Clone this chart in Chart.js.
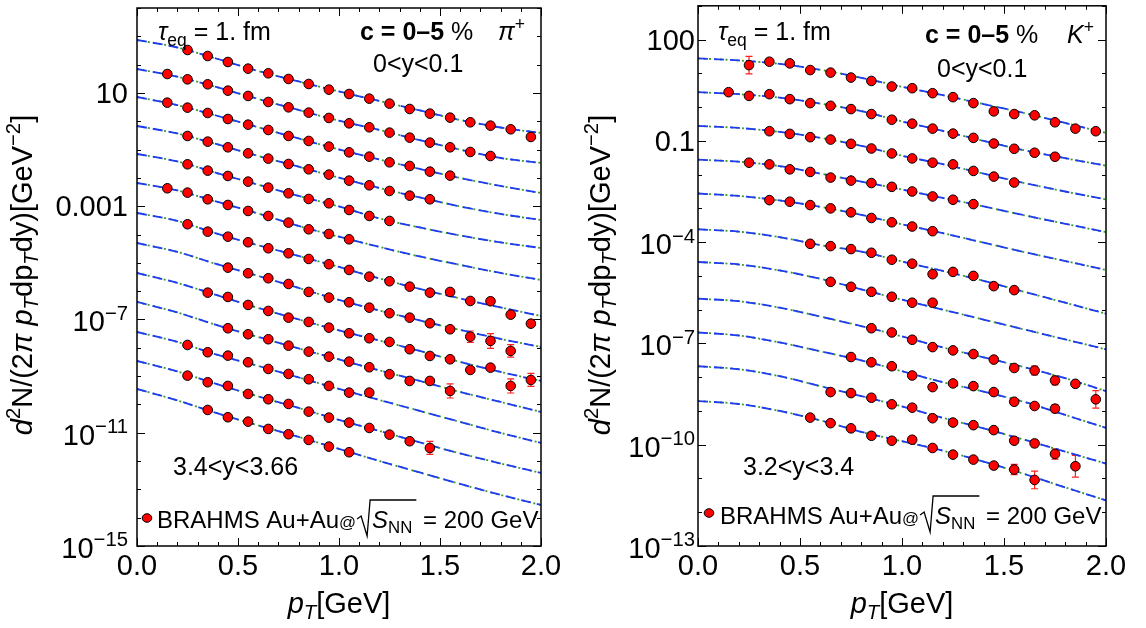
<!DOCTYPE html>
<html>
<head>
<meta charset="utf-8">
<script src="https://cdn.jsdelivr.net/npm/chart.js@4.4.1/dist/chart.umd.min.js"></script>
<style>
  html, body { margin: 0; padding: 0; background: #fff; }
  #wrap { position: relative; width: 1146px; height: 628px; overflow: hidden; }
  .panel { position: absolute; top: 0; width: 573px; height: 628px; }
</style>
</head>
<body>
<div id="wrap">
  <div class="panel" style="left:0"><canvas id="pi-chart" width="573" height="628"></canvas></div>
  <div class="panel" style="left:573px"><canvas id="k-chart" width="573" height="628"></canvas></div>
</div>
<script>
// pT bin centres of the BRAHMS points and the pT grid of the model curves
const PT_BINS = [0.15, 0.25, 0.35, 0.45, 0.55, 0.65, 0.75, 0.85, 0.95, 1.05, 1.15, 1.25, 1.35, 1.45, 1.55, 1.65, 1.75, 1.85, 1.95];
const CURVE_PT = [0, 0.2, 0.4, 0.6, 0.8, 1.0, 1.2, 1.4, 1.6, 1.8, 2.0];

// values are log10 of the (scaled) yield, one row per rapidity bin
const _ = null;
const piData = [
  [_, 2.517, 2.305, 2.093, 1.858, 1.693, 1.493, 1.316, 1.116, 0.963, 0.798, 0.622, 0.434, 0.269, 0.128, -0.037, -0.155, -0.284, -0.555],
  [1.669, 1.481, 1.305, 1.081, 0.893, 0.681, 0.492, 0.304, 0.116, -0.073, -0.214, -0.402, -0.579, -0.755, -0.920, -1.085, -1.226, _, _],
  [0.657, 0.481, 0.292, 0.080, -0.120, -0.308, -0.520, -0.696, -0.896, -1.097, -1.250, -1.450, -1.579, -1.779, -1.920, _, _, _, _],
  [_, -0.520, -0.720, -0.920, -1.132, -1.320, -1.509, -1.697, -1.885, -2.097, -2.262, -2.462, -2.627, -2.756, _, _, _, _, _],
  [_, -1.520, -1.744, -1.932, -2.132, -2.344, -2.544, -2.744, -2.897, -3.133, -3.345, -3.521, _, _, _, _, _, _, _],
  [-2.368, -2.521, -2.756, -2.956, -3.168, -3.345, -3.580, -3.816, -3.980, -4.169, _, _, _, _, _, _, _, _, _],
  [_, -3.638, -3.899, -4.076, -4.273, -4.485, -4.662, -4.863, -5.050, -5.251, -5.488, -5.650, -5.841, -6.053, -6.028, -6.346, -6.357, -6.830, -7.148],
  [_, _, _, -5.170, -5.368, -5.544, -5.746, -6.028, -6.229, -6.392, -6.583, -6.780, -6.936, -7.133, -7.345, -7.607, -7.758, -8.111, _],
  [_, _, -6.053, -6.205, -6.487, -6.699, -6.936, -7.087, -7.289, -7.487, -7.663, -7.794, -8.051, -8.288, -8.405, -8.782, -8.701, -9.347, -9.136],
  [_, _, _, -7.310, -7.522, -7.698, -7.925, -8.136, -8.313, -8.489, -8.687, -8.934, -9.171, -9.171, -9.524, _, _, _, _],
  [_, -7.900, -8.157, -8.277, -8.511, -8.747, -8.924, -9.111, -9.347, -9.584, -9.584, _, _, _, _, _, _, _, _],
  [_, -8.984, -9.217, -9.347, -9.630, -9.817, -9.983, -10.255, -10.467, -10.643, -10.831, -11.067, -11.300, -11.537, _, _, _, _, _],
  [_, _, -10.195, -10.453, -10.608, -10.866, -11.053, -11.254, -11.491, -11.689, _, _, _, _, _, _, _, _, _]
];
// [row, pT bin index, half length of the error bar in decades]
const piErrors = [[6, 18, 0.10], [7, 15, 0.20], [7, 16, 0.26], [7, 17, 0.22], [8, 17, 0.25], [8, 18, 0.23], [9, 14, 0.25], [11, 13, 0.23]];

const piCurves = [
  [2.870, 2.605, 2.199, 1.775, 1.405, 1.052, 0.716, 0.381, 0.045, -0.220, -0.414],
  [1.846, 1.574, 1.193, 0.787, 0.398, 0.020, -0.308, -0.668, -1.004, -1.297, -1.473],
  [0.857, 0.568, 0.186, -0.213, -0.608, -0.997, -1.350, -1.685, -2.003, -2.285, -2.533],
  [-0.167, -0.432, -0.820, -1.226, -1.604, -1.992, -2.356, -2.691, -3.009, -3.274, -3.486],
  [-1.155, -1.420, -1.837, -2.239, -2.639, -3.009, -3.433, -3.751, -4.033, -4.280, -4.475],
  [-2.179, -2.444, -2.850, -3.256, -3.698, -4.076, -4.439, -4.775, -5.075, -5.357, -5.605],
  [-3.239, -3.521, -3.980, -4.379, -4.757, -5.146, -5.552, -5.922, -6.258, -6.576, -6.876],
  [-4.298, -4.616, -5.057, -5.463, -5.887, -6.311, -6.682, -7.035, -7.370, -7.688, -7.970],
  [-5.357, -5.711, -6.152, -6.593, -6.999, -7.388, -7.741, -8.112, -8.500, -8.853, -9.171],
  [-6.381, -6.752, -7.211, -7.617, -8.023, -8.412, -8.800, -9.171, -9.559, -9.913, -10.266],
  [-7.441, -7.794, -8.253, -8.641, -9.047, -9.454, -9.842, -10.230, -10.619, -11.007, -11.360],
  [-8.465, -8.836, -9.295, -9.718, -10.124, -10.548, -10.937, -11.343, -11.731, -12.084, -12.420],
  [-9.454, -9.860, -10.319, -10.742, -11.148, -11.572, -11.996, -12.402, -12.808, -13.196, -13.550]
];

const kData = [
  [_, 1.244, 1.344, 1.294, 1.097, 1.021, 0.874, 0.774, 0.609, 0.559, 0.412, 0.294, 0.118, -0.127, -0.206, -0.244, -0.450, -0.638, -0.715],
  [0.441, 0.332, 0.382, 0.235, 0.118, 0.038, -0.059, -0.206, -0.374, -0.491, -0.638, -0.785, -0.912, -1.079, -1.235, -1.353, -1.471, _, _],
  [_, _, -0.715, -0.794, -0.891, -0.962, -1.088, -1.227, -1.374, -1.521, -1.647, -1.697, -1.891, -2.059, -2.235, _, _, _, _],
  [_, -1.647, -1.697, -1.844, -1.921, -2.088, -2.177, -2.250, -2.362, -2.500, -2.647, -2.744, -2.874, _, _, _, _, _, _],
  [_, _, -2.756, -2.803, -2.903, -3.000, -3.118, -3.285, -3.412, -3.538, -3.676, _, _, _, _, _, _, _, _],
  [_, _, _, _, -4.050, -4.118, -4.206, -4.315, -4.521, -4.638, -4.950, -4.882, -5.000, -5.303, -5.421, _, _, _, _],
  [_, _, _, _, _, -5.176, -5.324, -5.471, -5.618, -5.794, -5.794, _, _, _, _, _, _, _, _],
  [_, _, _, _, _, _, _, -6.550, -6.676, -6.891, -7.109, -7.206, -7.315, -7.479, -7.727, -7.803, -8.097, -8.197, -8.656],
  [_, _, _, _, _, _, -7.403, -7.559, -7.676, -7.950, -8.294, -8.185, -8.265, -8.441, -8.727, -8.853, -8.932, _, _],
  [_, _, _, _, _, -8.441, -8.471, -8.609, -8.803, -8.903, -9.215, -9.344, -9.421, -9.568, -9.882, -9.962, -10.274, -10.638, _],
  [_, _, _, _, -9.197, -9.362, -9.515, -9.735, -9.882, -9.853, -10.097, -10.294, -10.441, -10.618, -10.735, -11.044, _, _, _]
];
const kErrors = [[0, 1, 0.26], [7, 15, 0.13], [7, 16, 0.13], [7, 18, 0.26], [8, 16, 0.12], [9, 15, 0.10], [9, 16, 0.15], [9, 17, 0.32], [10, 13, 0.09], [10, 14, 0.15], [10, 15, 0.26]];

const kCurves = [
  [1.441, 1.382, 1.279, 1.103, 0.868, 0.603, 0.353, 0.088, -0.177, -0.471, -0.765],
  [0.441, 0.382, 0.279, 0.103, -0.118, -0.426, -0.706, -1.000, -1.279, -1.515, -1.735],
  [-0.559, -0.618, -0.735, -0.912, -1.147, -1.441, -1.691, -1.971, -2.250, -2.500, -2.735],
  [-1.559, -1.618, -1.750, -1.971, -2.206, -2.441, -2.691, -2.941, -3.206, -3.456, -3.706],
  [-2.559, -2.632, -2.765, -2.956, -3.191, -3.471, -3.735, -4.015, -4.294, -4.559, -4.824],
  [-3.618, -3.691, -3.853, -4.088, -4.279, -4.574, -4.853, -5.147, -5.471, -5.794, -6.118],
  [-4.588, -4.662, -4.838, -5.088, -5.397, -5.706, -6.000, -6.294, -6.588, -6.882, -7.176],
  [-5.676, -5.750, -5.941, -6.206, -6.485, -6.794, -7.118, -7.412, -7.706, -8.029, -8.412],
  [-6.676, -6.765, -6.971, -7.235, -7.500, -7.824, -8.147, -8.426, -8.735, -9.118, -9.500],
  [-7.676, -7.765, -7.971, -8.265, -8.559, -8.868, -9.206, -9.515, -9.853, -10.206, -10.559],
  [-8.706, -8.794, -9.000, -9.279, -9.618, -9.897, -10.176, -10.500, -10.868, -11.265, -11.647]
];

// axis ticks
const X_MAJOR = [0, 0.5, 1.0, 1.5, 2.0];
const X_LABELS = ['0.0', '0.5', '1.0', '1.5', '2.0'];
const piYTicks = [1, -3, -7, -11, -15];
const piYLabels = [['10'], ['0.001'], ['10', '\u22127'], ['10', '\u221211'], ['10', '\u221215']];
const kYTicks = [2, -1, -4, -7, -10, -13];
const kYLabels = [['100'], ['0.1'], ['10', '\u22124'], ['10', '\u22127'], ['10', '\u221210'], ['10', '\u221213']];

const FONT = '"Liberation Sans", Arial, sans-serif';
const BLUE = '#1f3cf0';
const GREEN = '#3a9c2c';

// ---------- rich text helpers ----------
function fontFor(p, size) {
  const s = p.s ? size * 0.7 : size * (p.k || 1);
  return `${p.i ? 'italic ' : ''}${p.b ? 'bold ' : ''}${s}px ${FONT}`;
}
function richWidth(ctx, parts, size) {
  let w = 0;
  parts.forEach(p => { ctx.font = fontFor(p, size); w += ctx.measureText(p.t).width; });
  return w;
}
function drawRich(ctx, parts, x, y, size, align) {
  let cx = x;
  if (align === 'center') cx -= richWidth(ctx, parts, size) / 2;
  if (align === 'right') cx -= richWidth(ctx, parts, size);
  ctx.textBaseline = 'alphabetic';
  ctx.textAlign = 'left';
  parts.forEach(p => {
    ctx.font = fontFor(p, size);
    let dy = 0;
    if (p.s === 'sup') dy = -size * 0.4;
    if (p.s === 'sub') dy = size * 0.22;
    ctx.fillText(p.t, cx, y + dy);
    cx += ctx.measureText(p.t).width;
  });
  return cx;
}

function legendEntry(ctx, x, y, dotX, dotY) {
  const size = 24;
  ctx.fillStyle = '#ff0000';
  ctx.strokeStyle = '#000';
  ctx.lineWidth = 1;
  ctx.beginPath();
  ctx.ellipse(dotX, dotY, 4.8, 4.3, 0, 0, Math.PI * 2);
  ctx.fill();
  ctx.stroke();
  ctx.fillStyle = '#000';
  let cx = drawRich(ctx, [{ t: 'BRAHMS Au+Au' }], x, y, size, 'left');
  cx = drawRich(ctx, [{ t: '@', k: 0.7 }], cx, y, size, 'left');
  const r0 = cx + 1;
  const sqW = richWidth(ctx, [{ t: 'S', i: 1 }, { t: 'NN', s: 'sub' }], size) + 6;
  ctx.strokeStyle = '#000';
  ctx.lineWidth = 1.3;
  ctx.beginPath();
  ctx.moveTo(r0, y - 9);
  ctx.lineTo(r0 + 4, y - 12);
  ctx.lineTo(r0 + 10, y + 8);
  ctx.lineTo(r0 + 13, y - 28);
  ctx.lineTo(r0 + 13 + sqW, y - 28);
  ctx.stroke();
  cx = drawRich(ctx, [{ t: 'S', i: 1 }, { t: 'NN', s: 'sub' }], r0 + 15, y, size, 'left');
  drawRich(ctx, [{ t: ' = 200 GeV' }], cx + 4, y, size, 'left');
}

// ---------- panel plugin: frame, ticks, labels, error bars, texts ----------
function panelPlugin(cfg) {
  return {
    id: 'panel-' + cfg.id,
    beforeDatasetsDraw(chart) {
      const { ctx, scales: { x, y } } = chart;
      ctx.save();
      ctx.strokeStyle = '#ff2020';
      ctx.lineWidth = 1.2;
      cfg.errors.forEach(([row, idx, half]) => {
        const v = cfg.data[row][idx];
        const px = x.getPixelForValue(PT_BINS[idx]);
        const y1 = y.getPixelForValue(10 ** (v + half));
        const y2 = y.getPixelForValue(10 ** (v - half));
        ctx.beginPath();
        ctx.moveTo(px, y1); ctx.lineTo(px, y2);
        ctx.moveTo(px - 3.5, y1); ctx.lineTo(px + 3.5, y1);
        ctx.moveTo(px - 3.5, y2); ctx.lineTo(px + 3.5, y2);
        ctx.stroke();
      });
      ctx.restore();
    },
    afterDraw(chart) {
      const { ctx, chartArea: a, scales: { x, y } } = chart;
      ctx.save();
      // frame
      ctx.strokeStyle = '#000';
      ctx.lineWidth = 1.5;
      ctx.strokeRect(a.left, a.top, a.right - a.left, a.bottom - a.top);
      ctx.lineWidth = 1;
      ctx.beginPath();
      // x ticks, bottom and top, pointing inward
      for (let i = 0; i <= 20; i++) {
        const v = i / 10;
        const px = Math.round(x.getPixelForValue(v)) + 0.5;
        const len = i % 5 === 0 ? 8 : 4;
        ctx.moveTo(px, a.bottom); ctx.lineTo(px, a.bottom - len);
        ctx.moveTo(px, a.top); ctx.lineTo(px, a.top + len);
      }
      // y ticks: each decade, longer at labelled ones
      for (let e = Math.ceil(Math.log10(y.min)); e <= Math.floor(Math.log10(y.max)); e++) {
        const py = Math.round(y.getPixelForValue(10 ** e)) + 0.5;
        const len = cfg.yTicks.includes(e) ? 8 : 4;
        ctx.moveTo(a.left, py); ctx.lineTo(a.left + len, py);
        ctx.moveTo(a.right, py); ctx.lineTo(a.right - len, py);
      }
      ctx.stroke();

      ctx.fillStyle = '#000';
      // x tick labels
      X_MAJOR.forEach((v, i) => {
        drawRich(ctx, [{ t: X_LABELS[i] }], x.getPixelForValue(v), 575, 29, 'center');
      });
      // y tick labels
      cfg.yTicks.forEach((e, i) => {
        const py = y.getPixelForValue(10 ** e);
        const lab = cfg.yLabels[i];
        const parts = lab.length > 1 ? [{ t: lab[0] }, { t: lab[1], s: 'sup' }] : [{ t: lab[0] }];
        drawRich(ctx, parts, cfg.labelRight, py + (lab.length > 1 ? 12 : 10), 29, 'right');
      });
      // axis titles
      drawRich(ctx, [{ t: 'p', i: 1 }, { t: 'T', i: 1, s: 'sub' }, { t: '[GeV]' }], (a.left + a.right) / 2, 613, 29, 'center');
      ctx.save();
      ctx.translate(cfg.titleX, 275);
      ctx.rotate(-Math.PI / 2);
      drawRich(ctx, [
        { t: 'd', i: 1 }, { t: '2', s: 'sup' }, { t: 'N/(2' }, { t: '\u03c0', i: 1 }, { t: ' ' },
        { t: 'p', i: 1 }, { t: 'T', i: 1, s: 'sub' }, { t: 'dp' }, { t: 'T', i: 1, s: 'sub' },
        { t: 'dy)[GeV' }, { t: '\u22122', s: 'sup' }, { t: ']' }
      ], 0, 0, 29, 'center');
      ctx.restore();

      // annotations
      drawRich(ctx, [{ t: '\u03c4', i: 1 }, { t: 'eq', s: 'sub' }, { t: ' = 1. fm' }], cfg.tauX, 40, 25, 'left');
      drawRich(ctx, [{ t: 'c = 0\u20135 ', b: 1 }, { t: '%' }], cfg.cX, cfg.cY, 25, 'left');
      drawRich(ctx, cfg.species, cfg.speciesX, cfg.cY, 25, 'left');
      drawRich(ctx, [{ t: '0<y<0.1' }], cfg.midX, cfg.midY, 25, 'left');
      drawRich(ctx, [{ t: cfg.fwdText }], cfg.fwdX, 475, 25, 'left');
      legendEntry(ctx, cfg.legX, cfg.legY, cfg.legDotX, cfg.legDotY);
      ctx.restore();
    }
  };
}

function buildDatasets(data, curves) {
  const sets = [];
  data.forEach(row => {
    sets.push({
      data: PT_BINS.map((p, i) => row[i] === null ? null : { x: p, y: 10 ** row[i] }).filter(Boolean),
      showLine: false,
      pointRadius: 4.8,
      pointBackgroundColor: '#ff0000',
      pointBorderColor: '#000',
      pointBorderWidth: 1,
      order: 0
    });
  });
  curves.forEach(row => {
    const pts = CURVE_PT.map((p, i) => ({ x: p, y: 10 ** row[i] }));
    sets.push({
      data: pts, showLine: true, pointRadius: 0, borderColor: BLUE, borderWidth: 1.8,
      borderDash: [10, 6], cubicInterpolationMode: 'monotone', order: 1
    });
    sets.push({
      data: pts, showLine: true, pointRadius: 0, borderColor: GREEN, borderWidth: 1.8,
      borderDash: [2, 3.5], cubicInterpolationMode: 'monotone', order: 2
    });
  });
  return sets;
}

function makePanel(canvasId, cfg) {
  return new Chart(document.getElementById(canvasId), {
    type: 'scatter',
    data: { datasets: buildDatasets(cfg.data, cfg.curves) },
    options: {
      responsive: false,
      animation: false,
      events: [],
      layout: { padding: { left: 0, right: cfg.padRight, top: cfg.padTop, bottom: 0 } },
      plugins: { legend: { display: false }, tooltip: { enabled: false } },
      scales: {
        x: {
          type: 'linear', min: 0, max: 2,
          ticks: { display: false }, grid: { display: false }, border: { display: false },
          afterFit: s => { s.height = 82; }
        },
        y: {
          type: 'logarithmic', min: cfg.yMin, max: cfg.yMax,
          ticks: { display: false }, grid: { display: false }, border: { display: false },
          afterFit: s => { s.width = cfg.axisLeft; }
        }
      }
    },
    plugins: [panelPlugin(cfg)]
  });
}

makePanel('pi-chart', {
  id: 'pi', data: piData, curves: piCurves, errors: piErrors,
  yMin: 1e-15, yMax: 1e4, yTicks: piYTicks, yLabels: piYLabels,
  axisLeft: 137, padRight: 32, padTop: 8, labelRight: 128, titleX: 32,
  tauX: 158, cX: 360, cY: 40, midX: 373, midY: 72,
  species: [{ t: '\u03c0', i: 1 }, { t: '+', s: 'sup' }], speciesX: 498,
  fwdText: '3.4<y<3.66', fwdX: 173,
  legX: 157, legY: 528, legDotX: 147, legDotY: 518
});

makePanel('k-chart', {
  id: 'k', data: kData, curves: kCurves, errors: kErrors,
  yMin: 1e-13, yMax: 1e3, yTicks: kYTicks, yLabels: kYLabels,
  axisLeft: 125, padRight: 40, padTop: 2, labelRight: 122, titleX: 37,
  tauX: 145, cX: 352, cY: 43, midX: 364, midY: 77,
  species: [{ t: 'K', i: 1 }, { t: '+', s: 'sup' }], speciesX: 494,
  fwdText: '3.2<y<3.4', fwdX: 170,
  legX: 147, legY: 524, legDotX: 136, legDotY: 513
});
</script>
</body>
</html>
